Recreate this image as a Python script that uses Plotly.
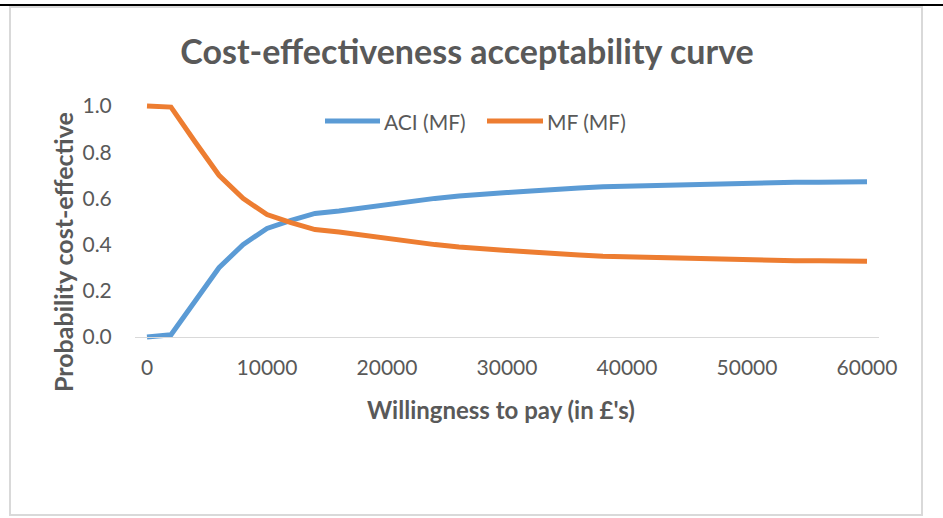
import plotly.graph_objects as go

# Willingness-to-pay thresholds (GBP) and probability each option is cost-effective
wtp = list(range(0, 60001, 2000))
aci_mf = [0.00, 0.01, 0.155, 0.30, 0.40, 0.47, 0.505, 0.535, 0.545, 0.56,
          0.575, 0.59, 0.60, 0.61, 0.62, 0.625, 0.632, 0.64, 0.645, 0.65,
          0.653, 0.655, 0.655, 0.66, 0.663, 0.665, 0.668, 0.67, 0.67, 0.671, 0.672]
mf_mf = [1.00, 0.995, 0.845, 0.70, 0.60, 0.53, 0.495, 0.465, 0.455, 0.44,
         0.425, 0.41, 0.40, 0.39, 0.38, 0.375, 0.368, 0.36, 0.355, 0.35,
         0.347, 0.345, 0.345, 0.34, 0.337, 0.335, 0.332, 0.33, 0.33, 0.329, 0.328]

x_ticks = [0, 10000, 20000, 30000, 40000, 50000, 60000]
y_ticks = [0.0, 0.2, 0.4, 0.6, 0.8, 1.0]
series_names = ["ACI (MF)", "MF (MF)"]
series_colors = ["#5B9BD5", "#ED7D31"]

W, H = 943, 518
L, R, T, B = 135, 64, 99, 174
pw, ph = W - L - R, H - T - B
Y_LO, Y_HI = -0.03, 1.03
FONT = "Lato, 'Open Sans', sans-serif"
GREY = "#595959"
TICK_SIZE = 21


def px_x(p):
    return (p - L) / pw


def px_y(q):
    return (H - B - q) / ph


fig = go.Figure()
for name, vals, col in zip(series_names, [aci_mf, mf_mf], series_colors):
    fig.add_trace(go.Scatter(x=wtp, y=vals, name=name, mode="lines",
                             line=dict(color=col, width=5),
                             showlegend=False, hoverinfo="skip"))

axis_pos = (0 - Y_LO) / (Y_HI - Y_LO)

fig.update_layout(
    width=W, height=H,
    margin=dict(l=L, r=R, t=T, b=B),
    paper_bgcolor="white", plot_bgcolor="white",
    font=dict(family=FONT, color=GREY, size=TICK_SIZE),
    title=dict(text="<b>Cost-effectiveness acceptability curve</b>",
               x=467 / W, xanchor="center", xref="container",
               y=1 - 52 / H, yanchor="middle", yref="container",
               font=dict(size=34, color=GREY, family=FONT)),
    xaxis=dict(range=[-1000, 61000], tickvals=x_ticks,
               ticktext=[str(v) for v in x_ticks],
               anchor="free", position=axis_pos,
               showline=True, linecolor="#d9d9d9", linewidth=1,
               ticks="outside", ticklen=12, tickcolor="rgba(0,0,0,0)",
               showgrid=False, zeroline=False,
               tickfont=dict(size=TICK_SIZE, color=GREY, family=FONT)),
    xaxis2=dict(range=[-1000, 61000], overlaying="x",
                anchor="free", position=axis_pos,
                tickvals=[-1000, 19000, 39000, 59000],
                ticks="outside", ticklen=6, tickcolor="#d9d9d9", tickwidth=1,
                showticklabels=False, showline=False, showgrid=False,
                zeroline=False),
    yaxis=dict(range=[Y_LO, Y_HI], tickvals=y_ticks,
               ticktext=[f"{v:.1f}" for v in y_ticks],
               showline=False, showgrid=False, zeroline=False,
               ticks="outside", ticklen=18, tickcolor="rgba(0,0,0,0)",
               tickfont=dict(size=TICK_SIZE, color=GREY, family=FONT)),
)

# axis titles
fig.add_annotation(text="<b>Willingness to pay (in £'s)</b>",
                   xref="paper", yref="paper", x=px_x(501), y=px_y(409),
                   xanchor="center", yanchor="middle", showarrow=False,
                   font=dict(size=24, color=GREY, family=FONT))
fig.add_annotation(text="<b>Probability cost-effective</b>",
                   xref="paper", yref="paper", x=px_x(63), y=px_y(252),
                   xanchor="center", yanchor="middle", showarrow=False,
                   textangle=-90,
                   font=dict(size=25, color=GREY, family=FONT))

# legend entries across the top of the plot
legend_items = [(325, 380, 382), (487, 543, 545)]
for (x0, x1, tx), name, col in zip(legend_items, series_names, series_colors):
    fig.add_shape(type="line", xref="paper", yref="paper",
                  x0=px_x(x0), x1=px_x(x1), y0=px_y(121), y1=px_y(121),
                  line=dict(color=col, width=5))
    fig.add_annotation(text=name, xref="paper", yref="paper",
                       x=px_x(tx), y=px_y(121), xanchor="left",
                       yanchor="middle", showarrow=False,
                       font=dict(size=TICK_SIZE, color=GREY, family=FONT))

# page rule and chart frame
fig.add_shape(type="line", xref="paper", yref="paper",
              x0=px_x(0), x1=px_x(W), y0=px_y(5), y1=px_y(5),
              line=dict(color="black", width=2), layer="below")
fig.add_shape(type="rect", xref="paper", yref="paper",
              x0=px_x(10), x1=px_x(922), y0=px_y(515), y1=px_y(7),
              line=dict(color="#d9d9d9", width=2), fillcolor="white",
              layer="below")

fig.write_html("out.html")
